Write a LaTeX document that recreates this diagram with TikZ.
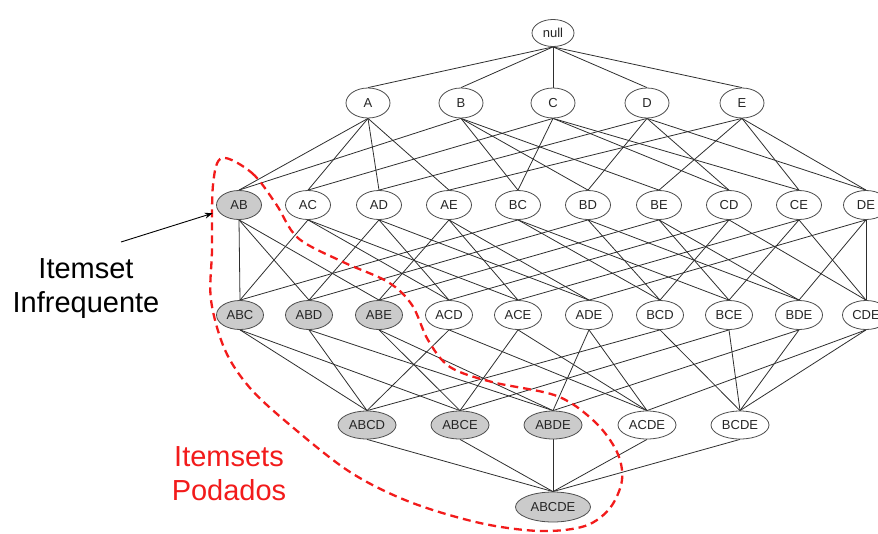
\documentclass[tikz,border=0pt]{standalone}
\usepackage{fontspec}
\setmainfont{Liberation Sans}
\usetikzlibrary{arrows.meta,shapes.geometric,backgrounds}
\definecolor{edgecol}{HTML}{2E2E2E}
\definecolor{prunedfill}{HTML}{CBCBCB}
\definecolor{loopred}{HTML}{F21B1B}
\tikzset{
  item/.style={ellipse, draw=edgecol!85, line width=0.8pt, fill=white, inner sep=0pt,
    text=black!85, font=\fontsize{13}{15}\selectfont},
  lv0/.style={item, minimum width=42pt, minimum height=27pt},
  lv1/.style={item, minimum width=44pt, minimum height=30pt},
  lv2/.style={item, minimum width=45pt, minimum height=29pt},
  lv3/.style={item, minimum width=47pt, minimum height=29pt},
  lv4/.style={item, minimum width=58pt, minimum height=28pt},
  lv5/.style={item, minimum width=75pt, minimum height=30pt},
  pruned/.style={fill=prunedfill},
  link/.style={draw=edgecol, line width=0.8pt},
  biglabel/.style={align=center, font=\fontsize{29}{34}\selectfont},
  prunedloop/.style={draw=loopred, line width=2.3pt, dash pattern=on 8pt off 5pt}
}
\newcommand{\lattlinks}[2]{%
  \foreach \c in {#2} \draw[link] (#1.south) -- (\c.north);}
\begin{document}
\begin{tikzpicture}[x=1pt, y=-1pt]
\useasboundingbox (0,0) rectangle (878,533);

% top element
\node[lv0] (null) at (553,33) {null};

% single items
\node[lv1] (A) at (368,103) {A};
\node[lv1] (B) at (461,103) {B};
\node[lv1] (C) at (553,103) {C};
\node[lv1] (D) at (647,103) {D};
\node[lv1] (E) at (742,103) {E};

% pairs
\node[lv2,pruned] (AB) at (239,205) {AB};
\node[lv2] (AC) at (308,205) {AC};
\node[lv2] (AD) at (379,205) {AD};
\node[lv2] (AE) at (449,205) {AE};
\node[lv2] (BC) at (518,205) {BC};
\node[lv2] (BD) at (588,205) {BD};
\node[lv2] (BE) at (659,205) {BE};
\node[lv2] (CD) at (729,205) {CD};
\node[lv2] (CE) at (799,205) {CE};
\node[lv2] (DE) at (866,205) {DE};

% triples
\node[lv3,pruned] (ABC) at (240,315) {ABC};
\node[lv3,pruned] (ABD) at (309,315) {ABD};
\node[lv3,pruned] (ABE) at (379,315) {ABE};
\node[lv3] (ACD) at (449,315) {ACD};
\node[lv3] (ACE) at (518,315) {ACE};
\node[lv3] (ADE) at (589,315) {ADE};
\node[lv3] (BCD) at (660,315) {BCD};
\node[lv3] (BCE) at (729,315) {BCE};
\node[lv3] (BDE) at (799,315) {BDE};
\node[lv3] (CDE) at (866,315) {CDE};

% quadruples
\node[lv4,pruned] (ABCD) at (367,425) {ABCD};
\node[lv4,pruned] (ABCE) at (460,425) {ABCE};
\node[lv4,pruned] (ABDE) at (553,425) {ABDE};
\node[lv4] (ACDE) at (647,425) {ACDE};
\node[lv4] (BCDE) at (740,425) {BCDE};

% full itemset
\node[lv5,pruned] (ABCDE) at (553,507) {ABCDE};

% lattice links, kept behind the nodes
\begin{scope}[on background layer]
\lattlinks{null}{A,B,C,D,E}
\lattlinks{A}{AB,AC,AD,AE}
\lattlinks{B}{AB,BC,BD,BE}
\lattlinks{C}{AC,BC,CD,CE}
\lattlinks{D}{AD,BD,CD,DE}
\lattlinks{E}{AE,BE,CE,DE}
\lattlinks{AB}{ABC,ABD,ABE}
\lattlinks{AC}{ABC,ACD,ACE}
\lattlinks{AD}{ABD,ACD,ADE}
\lattlinks{AE}{ABE,ACE,ADE}
\lattlinks{BC}{ABC,BCD,BCE}
\lattlinks{BD}{ABD,BCD,BDE}
\lattlinks{BE}{ABE,BCE,BDE}
\lattlinks{CD}{ACD,BCD,CDE}
\lattlinks{CE}{ACE,BCE,CDE}
\lattlinks{DE}{ADE,BDE,CDE}
\lattlinks{ABC}{ABCD,ABCE}
\lattlinks{ABD}{ABCD,ABDE}
\lattlinks{ABE}{ABCE,ABDE}
\lattlinks{ACD}{ABCD,ACDE}
\lattlinks{ACE}{ABCE,ACDE}
\lattlinks{ADE}{ABDE,ACDE}
\lattlinks{BCD}{ABCD,BCDE}
\lattlinks{BCE}{ABCE,BCDE}
\lattlinks{BDE}{ABDE,BCDE}
\lattlinks{CDE}{ACDE,BCDE}
\lattlinks{ABCD}{ABCDE}
\lattlinks{ABCE}{ABCDE}
\lattlinks{ABDE}{ABCDE}
\lattlinks{ACDE}{ABCDE}
\lattlinks{BCDE}{ABCDE}
\end{scope}

% boundary of the pruned part of the lattice
\draw[prunedloop] plot[smooth cycle, tension=0.55] coordinates {
  (222,158) (252,173) (276,204) (298,238) (343,262) (388,282) (412,305)
  (428,340) (450,367) (492,382) (557,396) (595,422) (617,452) (622,480)
  (610,508) (585,526) (540,531) (480,523) (410,502) (350,472) (290,425)
  (250,388) (225,350) (211,300) (212,250) (213,185)};

% annotations
\node[biglabel, anchor=base] (infreq) at (86,312) {Itemset\\Infrequente};
\coordinate (arrtail) at (121,242);
\draw[-{Stealth[length=8pt,width=6pt]}, line width=0.9pt, shorten >=6pt] (arrtail) -- (AB);
\node[biglabel, anchor=base, text=loopred] (prunedtxt) at (229,500) {Itemsets\\Podados};
\end{tikzpicture}
\end{document}
